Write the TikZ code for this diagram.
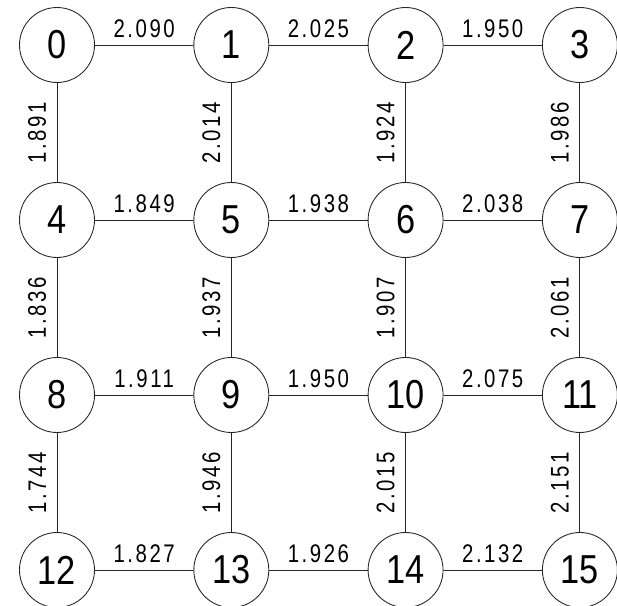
\documentclass[tikz,border=0pt]{standalone}
\usepackage{fontspec}
\setmainfont{Liberation Sans}
\newfontfamily\wfont[FakeStretch=0.8,LetterSpace=10]{Liberation Sans}
\newfontfamily\qfont[FakeStretch=0.85]{Liberation Sans}
\usetikzlibrary{positioning}
\tikzset{
  qnode/.style={draw,circle,minimum size=1.5cm,inner sep=0pt,font=\qfont\fontsize{23}{26}\selectfont},
  wlabel/.style={font=\wfont\fontsize{14.5}{16}\selectfont,inner sep=4pt},
}
\begin{document}
\begin{tikzpicture}[line width=0.5pt,draw=black!85]
  \useasboundingbox (0,0) rectangle (12.34,-12.12);
  % qubit grid
  \foreach \r in {0,...,3}{
    \foreach \c in {0,...,3}{
      \pgfmathtruncatemacro{\k}{4*\r+\c}
      \node[qnode] (n\k) at (1.14+3.486*\c,-0.9-3.5*\r) {\k};
    }
  }
  % horizontal couplings
  \foreach \a/\b/\w in {0/1/2.090, 1/2/2.025, 2/3/1.950,
                        4/5/1.849, 5/6/1.938, 6/7/2.038,
                        8/9/1.911, 9/10/1.950, 10/11/2.075,
                        12/13/1.827, 13/14/1.926, 14/15/2.132}{
    \draw (n\a) -- node[wlabel,anchor=south]{\w} (n\b);
  }
  % vertical couplings
  \foreach \a/\b/\w in {0/4/1.891, 1/5/2.014, 2/6/1.924, 3/7/1.986,
                        4/8/1.836, 5/9/1.937, 6/10/1.907, 7/11/2.061,
                        8/12/1.744, 9/13/1.946, 10/14/2.015, 11/15/2.151}{
    \draw (n\a) -- node[wlabel,anchor=south,rotate=90,inner sep=6pt]{\w} (n\b);
  }
\end{tikzpicture}
\end{document}
